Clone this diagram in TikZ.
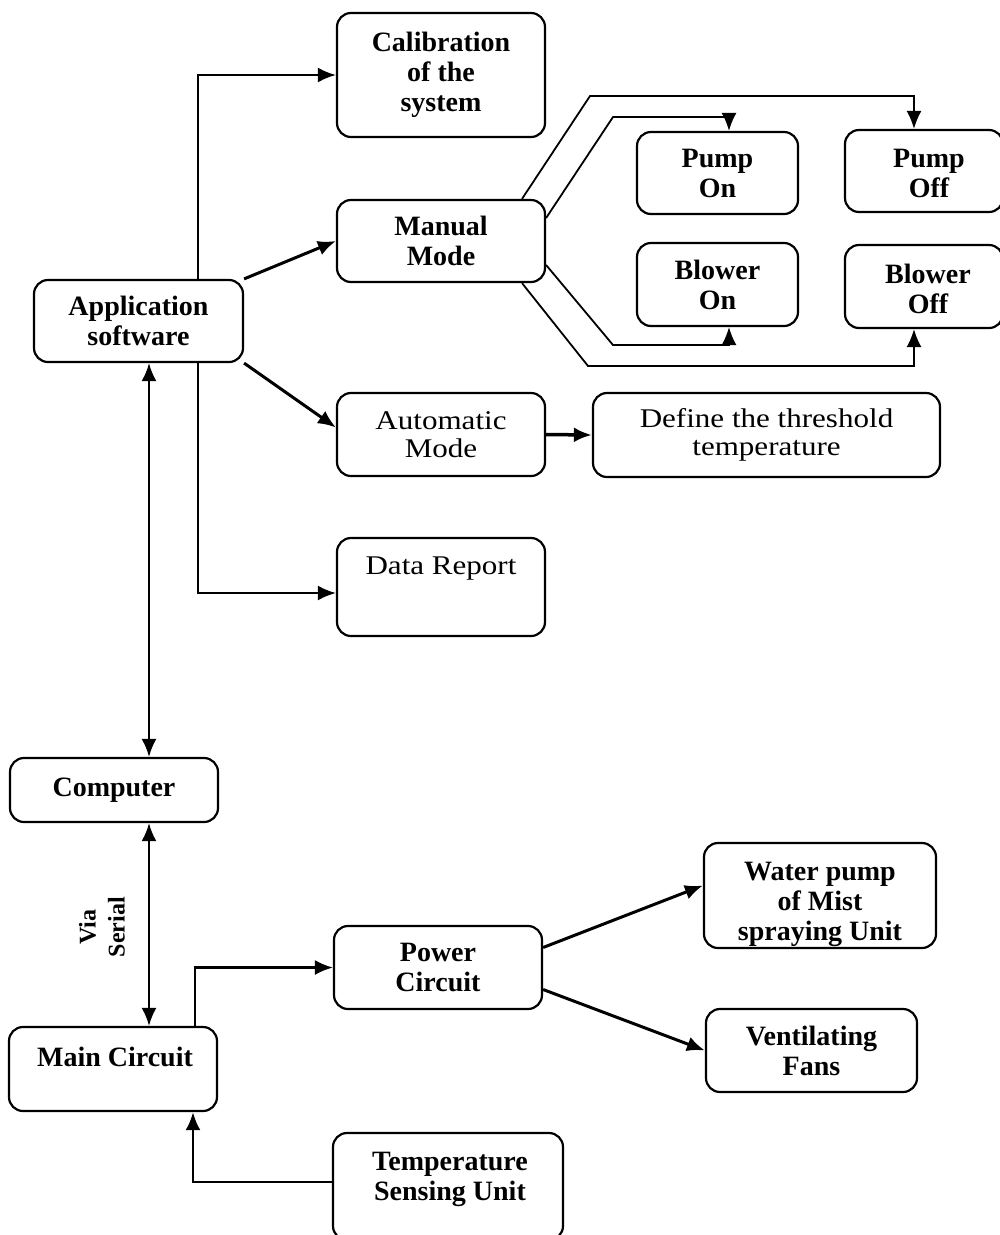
\documentclass[tikz,border=0pt]{standalone}
\usepackage{fontspec}
\setmainfont{Liberation Serif}
\newfontfamily\widefont{Liberation Serif}[FakeStretch=1.15]
\usetikzlibrary{arrows.meta,calc}
\begin{document}
\begin{tikzpicture}[x=1pt,y=-1pt,
  box/.style={draw, line width=2.2pt, rounded corners=14pt, inner sep=0pt},
  btxt/.style={font=\fontsize{28}{30}\selectfont\bfseries, align=center},
  rtxt/.style={font=\widefont\fontsize{27}{28.5}\selectfont, align=center},
  conn/.style={line width=2.2pt},
  arr/.style={conn, -{Latex[length=18pt,width=15pt]}},
  thinarr/.style={line width=1.8pt, -{Latex[length=18pt,width=15pt]}},
  dbl/.style={conn, {Latex[length=18pt,width=15pt]}-{Latex[length=18pt,width=15pt]}},
]
\useasboundingbox (0,0) rectangle (1000,1235);

% boxes
\node[box, btxt, minimum width=208pt, minimum height=124pt] (cal) at (441,75) {Calibration\\of the\\system};
\node[box, btxt, minimum width=208pt, minimum height=82pt] (man) at (441,241) {Manual\\Mode};
\node[box, btxt, minimum width=209pt, minimum height=82pt] (app) at (138.5,321) {Application\\software};
\node[box, btxt, minimum width=161pt, minimum height=82pt] (pon) at (717.5,173) {Pump\\On};
\node[box, minimum width=158pt, minimum height=82pt] (poff) at (924,171) {};
\node[btxt] (tpoff) at (929,173.5) {Pump\\Off};
\node[box, btxt, minimum width=161pt, minimum height=83pt] (bon) at (717.5,284.5) {Blower\\On};
\node[box, minimum width=158pt, minimum height=83pt] (boff) at (924,286.5) {};
\node[btxt] (tboff) at (928,288.5) {Blower\\Off};
\node[box, rtxt, minimum width=208pt, minimum height=83pt] (auto) at (441,434.5) {Automatic\\Mode};
\node[box, rtxt, minimum width=347pt, minimum height=84pt] (def) at (766.5,435) {Define the threshold\\temperature};
\node[box, minimum width=208pt, minimum height=98pt] (data) at (441,587) {};
\node[rtxt] (tdata) at (441,569) {Data Report};
\node[box, btxt, minimum width=208pt, minimum height=64pt] (comp) at (114,790) {Computer};
\node[box, minimum width=208pt, minimum height=84pt] (mainc) at (113,1069) {};
\node[btxt] (tmainc) at (115,1057) {Main Circuit};
\node[box, btxt, minimum width=208pt, minimum height=83pt] (pow) at (438,967.5) {Power\\Circuit};
\node[box, minimum width=230pt, minimum height=107pt] (temp) at (448,1186.5) {};
\node[btxt] (ttemp) at (450,1179) {Temperature\\Sensing Unit};
\node[box, minimum width=232pt, minimum height=105pt] (water) at (820,895.5) {};
\node[btxt] (twater) at (820,904) {Water pump\\of Mist\\spraying Unit};
\node[box, btxt, minimum width=211pt, minimum height=83pt] (vent) at (811.5,1050.5) {Ventilating\\Fans};

% label
\node[btxt, font=\fontsize{24}{29}\selectfont\bfseries, rotate=90] (via) at (102,927) {Via\\Serial};

% connectors from application software
\draw[arr] (198,0 |- app.north) |- (cal.west);
\draw[arr, line width=3pt] (app.north east) -- (man.west);
\draw[arr, line width=3pt] (app.south east) -- ($(auto.west)+(0,-7)$);
\draw[arr] (198,0 |- app.south) |- ($(data.west)+(0,6)$);
\draw[dbl] (149,0 |- app.south) -- (149,0 |- comp.north);
\draw[dbl] (149,0 |- comp.south) -- (149,0 |- mainc.north);

% manual mode branches
\draw[thinarr] ($(man.north)+(81,0)$) -- (590,96) -| ($(poff.north)+(-10,0)$);
\draw[thinarr] ($(man.east)+(0,-23)$) -- (613,117) -| ($(pon.north)+(11.5,0)$);
\draw[thinarr] ($(man.east)+(0,24)$) -- (613,345) -| ($(bon.south)+(11.5,0)$);
\draw[thinarr] ($(man.south)+(81,0)$) -- (588,366) -| ($(boff.south)+(-10,0)$);

% automatic mode
\draw[arr, line width=3.5pt] (auto.east) -- (def.west);

% lower part
\draw[arr] (195,0 |- mainc.north) |- (pow.west);
\draw[arr, line width=2.8pt] (temp.west |- 0,1182) -| (193,0 |- mainc.south);
\draw[arr, line width=3pt] ($(pow.east)+(0,-20)$) -- ($(water.west)+(0,-10)$);
\draw[arr, line width=3pt] ($(pow.east)+(0,22)$) -- (vent.west);
\end{tikzpicture}
\end{document}
